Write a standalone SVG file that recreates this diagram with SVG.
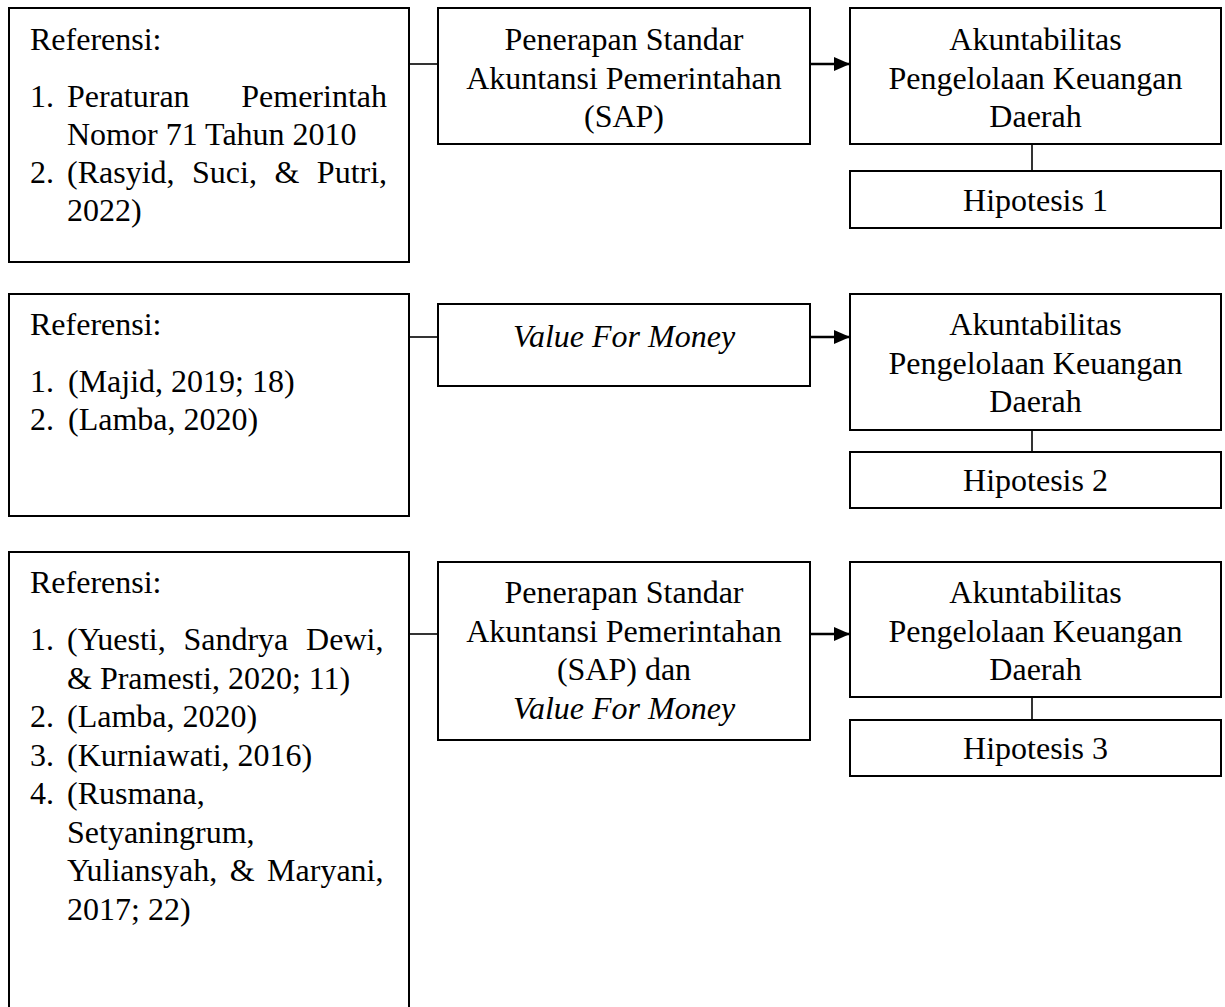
<svg xmlns="http://www.w3.org/2000/svg" width="1225" height="1007" viewBox="0 0 1225 1007">
<style>
.box{fill:#fff;stroke:#000;stroke-width:2}
.t{font-family:"Liberation Serif","Times New Roman",serif;font-size:32px;fill:#000}
.c{text-anchor:middle}
.e{text-anchor:end}
.i{font-style:italic}
.ln{stroke:#000;stroke-width:1.6;fill:none}
.ar{stroke:#000;stroke-width:2.6;fill:none}
</style>
<defs>
<marker id="ah" markerUnits="userSpaceOnUse" markerWidth="16" markerHeight="14" refX="16" refY="7" orient="auto">
<path d="M0,0 L16,7 L0,14 z" fill="#000"/>
</marker>
</defs>
<rect width="1225" height="1007" fill="#fff"/>

<g id="connectors">
<line class="ln" x1="409" y1="64" x2="438" y2="64"/>
<line class="ar" x1="810" y1="64" x2="850" y2="64" marker-end="url(#ah)"/>
<line class="ln" x1="1032" y1="144" x2="1032" y2="171"/>
<line class="ln" x1="409" y1="337" x2="438" y2="337"/>
<line class="ar" x1="810" y1="337" x2="850" y2="337" marker-end="url(#ah)"/>
<line class="ln" x1="1032" y1="430" x2="1032" y2="452"/>
<line class="ln" x1="409" y1="634" x2="438" y2="634"/>
<line class="ar" x1="810" y1="634" x2="850" y2="634" marker-end="url(#ah)"/>
<line class="ln" x1="1032" y1="697" x2="1032" y2="720"/>
</g>

<g id="ref1">
<rect class="box" x="9" y="8" width="400" height="254"/>
<text class="t" x="30" y="50">Referensi:</text>
<text class="t" x="30" y="107">1.</text>
<text class="t" x="67" y="107">Peraturan</text>
<text class="t e" x="387" y="107">Pemerintah</text>
<text class="t" x="67" y="145">Nomor 71 Tahun 2010</text>
<text class="t" x="30" y="183">2.</text>
<text class="t" x="67" y="183" word-spacing="9.5">(Rasyid, Suci, &amp; Putri,</text>
<text class="t" x="67" y="221">2022)</text>
</g>

<g id="sap1">
<rect class="box" x="438" y="8" width="372" height="136"/>
<text class="t c" x="624" y="50">Penerapan Standar</text>
<text class="t c" x="624" y="89">Akuntansi Pemerintahan</text>
<text class="t c" x="624" y="127">(SAP)</text>
</g>

<g id="akun1">
<rect class="box" x="850" y="8" width="371" height="136"/>
<text class="t c" x="1035.5" y="50">Akuntabilitas</text>
<text class="t c" x="1035.5" y="89">Pengelolaan Keuangan</text>
<text class="t c" x="1035.5" y="127">Daerah</text>
</g>

<g id="hip1">
<rect class="box" x="850" y="171" width="371" height="57"/>
<text class="t c" x="1035.5" y="211">Hipotesis 1</text>
</g>

<g id="ref2">
<rect class="box" x="9" y="294" width="400" height="222"/>
<text class="t" x="30" y="335">Referensi:</text>
<text class="t" x="30" y="392">1.</text>
<text class="t" x="68" y="392">(Majid, 2019; 18)</text>
<text class="t" x="30" y="430">2.</text>
<text class="t" x="68" y="430">(Lamba, 2020)</text>
</g>

<g id="vfm">
<rect class="box" x="438" y="304" width="372" height="82"/>
<text class="t c i" x="624" y="347">Value For Money</text>
</g>

<g id="akun2">
<rect class="box" x="850" y="294" width="371" height="136"/>
<text class="t c" x="1035.5" y="335">Akuntabilitas</text>
<text class="t c" x="1035.5" y="374">Pengelolaan Keuangan</text>
<text class="t c" x="1035.5" y="412">Daerah</text>
</g>

<g id="hip2">
<rect class="box" x="850" y="452" width="371" height="56"/>
<text class="t c" x="1035.5" y="491">Hipotesis 2</text>
</g>

<g id="ref3">
<rect class="box" x="9" y="552" width="400" height="470"/>
<text class="t" x="30" y="593">Referensi:</text>
<text class="t" x="30" y="650">1.</text>
<text class="t" x="67" y="650" word-spacing="9.8">(Yuesti, Sandrya Dewi,</text>
<text class="t" x="67" y="688.5">&amp; Pramesti, 2020; 11)</text>
<text class="t" x="30" y="727">2.</text>
<text class="t" x="67" y="727">(Lamba, 2020)</text>
<text class="t" x="30" y="765.5">3.</text>
<text class="t" x="67" y="765.5">(Kurniawati, 2016)</text>
<text class="t" x="30" y="804">4.</text>
<text class="t" x="67" y="804">(Rusmana,</text>
<text class="t" x="67" y="842.5">Setyaningrum,</text>
<text class="t" x="67" y="881" word-spacing="4.5">Yuliansyah, &amp; Maryani,</text>
<text class="t" x="67" y="919.5">2017; 22)</text>
</g>

<g id="sapvfm">
<rect class="box" x="438" y="562" width="372" height="178"/>
<text class="t c" x="624" y="603">Penerapan Standar</text>
<text class="t c" x="624" y="641.5">Akuntansi Pemerintahan</text>
<text class="t c" x="624" y="680">(SAP) dan</text>
<text class="t c i" x="624" y="718.5">Value For Money</text>
</g>

<g id="akun3">
<rect class="box" x="850" y="562" width="371" height="135"/>
<text class="t c" x="1035.5" y="603">Akuntabilitas</text>
<text class="t c" x="1035.5" y="641.5">Pengelolaan Keuangan</text>
<text class="t c" x="1035.5" y="680">Daerah</text>
</g>

<g id="hip3">
<rect class="box" x="850" y="720" width="371" height="56"/>
<text class="t c" x="1035.5" y="759">Hipotesis 3</text>
</g>
</svg>
